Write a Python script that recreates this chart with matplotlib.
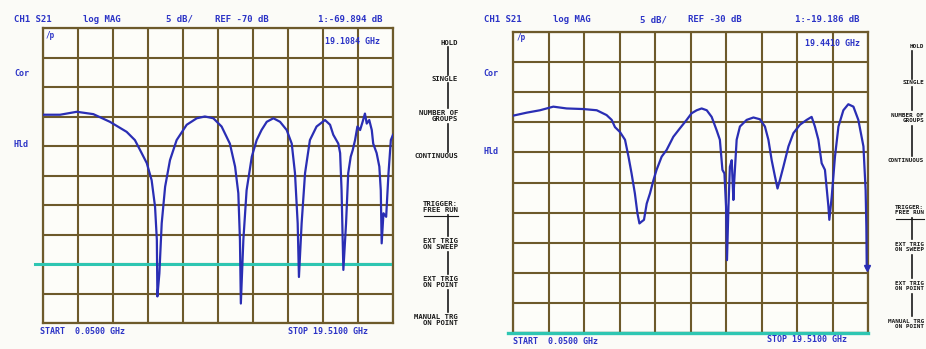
import numpy as np
import matplotlib
matplotlib.use("Agg")
import matplotlib.pyplot as plt

W, H = 926, 349

# Sweep settings (both channels)
start_ghz = 0.05
stop_ghz = 19.51
db_per_div = 5

# Left display: REF -70 dB, reference line 8 divisions down
left_ref_db = -70
left_ref_pos = 8
left_marker_ghz = 19.1084
left_marker_db = -69.894

# Right display: REF -30 dB, reference line at the bottom graticule
right_ref_db = -30
right_ref_pos = 10
right_marker_ghz = 19.4410
right_marker_db = -19.186

left_freq = [0.05, 1.00, 1.93, 2.85, 3.77, 4.70, 5.16, 5.45, 5.82, 6.09, 6.28, 6.38,
             6.41, 6.52, 6.65, 6.84, 7.11, 7.48, 8.04, 8.60, 9.05, 9.52, 9.98, 10.44,
             10.73, 10.91, 11.00, 11.05, 11.19, 11.37, 11.66, 11.93, 12.20, 12.49,
             12.86, 13.23, 13.60, 13.88, 14.06, 14.21, 14.28, 14.43, 14.62, 14.89,
             15.26, 15.73, 16.01, 16.19, 16.47, 16.57, 16.65, 16.75, 16.90, 17.02,
             17.16, 17.27, 17.40, 17.53, 17.68, 17.82, 17.95, 18.05, 18.19, 18.33,
             18.41, 18.60, 18.75, 18.83, 18.88, 18.98, 19.13, 19.26, 19.39, 19.51]
left_db = [-44.7, -44.7, -44.2, -44.6, -45.9, -47.6, -49.0, -50.7, -52.9, -55.8, -60.3, -65.9,
           -75.5, -71.6, -63.1, -56.9, -52.4, -49.0, -46.4, -45.3, -45.0, -45.3, -46.7, -49.6,
           -53.5, -58.0, -65.9, -76.7, -65.9, -57.5, -51.8, -49.0, -47.3, -45.9,
           -45.3, -45.9, -47.3, -49.6, -54.6, -63.1, -72.2, -63.1, -54.6, -49.0,
           -46.7, -45.6, -46.4, -48.1, -49.6, -51.2, -57.5, -71.0, -63.1, -54.6,
           -51.8, -50.7, -49.0, -46.7, -47.3, -45.9, -44.5, -46.2, -45.6, -47.3,
           -49.6, -51.2, -53.5, -57.5, -66.5, -61.4, -62.0, -54.6, -49.0, -48.1]

right_freq = [0.05, 0.80, 1.53, 2.26, 2.99, 3.91, 4.64, 5.18, 5.46, 5.64, 5.91, 6.19,
              6.38, 6.55, 6.73, 6.87, 6.98, 7.10, 7.23, 7.38, 7.56, 7.75, 7.92, 8.20,
              8.47, 8.84, 9.20, 9.57, 9.84, 10.12, 10.39, 10.67, 10.94, 11.21, 11.39,
              11.53, 11.64, 11.73, 11.78, 11.86, 11.94, 12.04, 12.13, 12.18, 12.31,
              12.49, 12.86, 13.23, 13.59, 13.86, 14.05, 14.23, 14.41, 14.55, 14.68,
              14.87, 15.15, 15.42, 15.78, 16.15, 16.42, 16.60, 16.79, 16.97, 17.15,
              17.34, 17.39, 17.52, 17.70, 17.89, 18.16, 18.43, 18.71, 18.98, 19.26,
              19.38, 19.42, 19.441]
right_db = [6.1, 6.6, 7.0, 7.6, 7.3, 7.2, 7.0, 6.2, 5.4, 4.2, 3.4, 2.1,
            -0.7, -3.5, -6.8, -10.1, -11.8, -11.5, -11.2, -8.5, -6.8, -4.6, -2.9, -0.7,
            0.4, 2.6, 4.0, 5.4, 6.5, 7.0, 7.3, 7.0, 5.9, 3.7, 2.1,
            -2.9, -3.5, -9.0, -17.9, -9.0, -2.4, -1.3, -7.9, -4.6, 2.1,
            4.3, 5.4, 5.8, 5.5, 4.3, 2.1, -1.3, -4.0, -6.0, -4.6,
            -2.4, 1.0, 3.2, 4.6, 5.4, 5.9, 4.3, 2.1, -1.8, -2.9,
            -9.0, -11.2, -7.4, -0.7, 4.3, 7.0, 8.0, 7.6, 5.4, 1.0,
            -6.3, -12.3, -19.186]

softkeys = ["HOLD", "SINGLE", "NUMBER OF\nGROUPS", "CONTINUOUS",
            "TRIGGER:\nFREE RUN", "EXT TRIG\nON SWEEP", "EXT TRIG\nON POINT",
            "MANUAL TRG\nON POINT"]

GRID = "#6d5a2b"
TRACE = "#2a2eb4"
ANNOT = "#2b33c6"
REFLINE = "#2ec6b2"
PAPER = "#fbfbf7"

fig = plt.figure(figsize=(W / 100, H / 100), dpi=100)
fig.patch.set_facecolor(PAPER)


def px_axes(x0, y0, x1, y1):
    return fig.add_axes([x0 / W, 1 - y1 / H, (x1 - x0) / W, (y1 - y0) / H])


def ftext(x, y, s, **kw):
    kw.setdefault("color", ANNOT)
    kw.setdefault("fontsize", 6.5)
    kw.setdefault("fontweight", "bold")
    kw.setdefault("family", "DejaVu Sans Mono")
    kw.setdefault("va", "center")
    fig.text(x / W, 1 - y / H, s, **kw)


def graticule(ax, ref_db, ref_pos):
    top = ref_db + ref_pos * db_per_div
    bottom = top - 10 * db_per_div
    ax.set_xlim(start_ghz, stop_ghz)
    ax.set_ylim(bottom, top)
    ax.set_xticks(np.linspace(start_ghz, stop_ghz, 11))
    ax.set_yticks(np.linspace(bottom, top, 11))
    ax.grid(True, color=GRID, linewidth=1.5)
    ax.tick_params(length=0, labelbottom=False, labelleft=False)
    ax.set_facecolor("#fdfdf9")
    for s in ax.spines.values():
        s.set_color(GRID)
        s.set_linewidth(1.6)
    ax.set_axisbelow(True)


def vbar(x, ya, yb):
    fig.add_artist(plt.Line2D([x / W, x / W], [1 - ya / H, 1 - yb / H],
                              color="#1a1a1a", linewidth=1.2))


def soft_keys(x_right, ys, line_x, size=5.2):
    half = []
    for label, y in zip(softkeys, ys):
        ftext(x_right, y, label, color="#1a1a1a", fontsize=size,
              ha="right", linespacing=0.85)
        half.append(8 if "\n" in label else 4)
    # short connecting bars between neighbouring keys of each group
    for grp in [(0, 1, 2, 3), (4, 5, 6, 7)]:
        for a, b in zip(grp[:-1], grp[1:]):
            vbar(line_x, ys[a] + half[a], ys[b] - half[b])
    # underline under the trigger heading
    y_u = ys[4] + half[4] + 1
    fig.add_artist(plt.Line2D([(x_right - 34 * size / 5.2) / W, x_right / W],
                              [1 - y_u / H, 1 - y_u / H], color="#1a1a1a",
                              linewidth=0.8))


# ---- left display ----
axL = px_axes(43, 28, 393, 323)
graticule(axL, left_ref_db, left_ref_pos)
axL.axhline(left_ref_db, xmin=-0.023, xmax=0.99, color=REFLINE, linewidth=2.2,
            clip_on=False, zorder=3)
axL.plot(left_freq, left_db, color=TRACE, linewidth=1.6, zorder=4)

ftext(14, 19, "CH1 S21", ha="left")
ftext(83, 19, "log MAG", ha="left")
ftext(166, 19, "5 dB/", ha="left")
ftext(215, 19, "REF -70 dB", ha="left")
ftext(318, 19, "1:-69.894 dB", ha="left")
ftext(325, 41, "19.1084 GHz", ha="left", fontsize=6)
ftext(46, 36, "/p", ha="left", fontsize=5.5)
ftext(14, 73, "Cor", ha="left", fontsize=6)
ftext(14, 144, "Hld", ha="left", fontsize=6)
ftext(40, 331, "START  0.0500 GHz", ha="left", fontsize=6)
ftext(288, 331, "STOP 19.5100 GHz", ha="left", fontsize=6)
soft_keys(458, [43, 79, 116, 156, 207, 244, 282, 320], 448)

# ---- right display ----
axR = px_axes(513, 32, 868, 333)
graticule(axR, right_ref_db, right_ref_pos)
axR.axhline(right_ref_db, xmin=-0.015, xmax=1.0, color=REFLINE, linewidth=2.4,
            clip_on=False, zorder=3)
axR.plot(right_freq, right_db, color=TRACE, linewidth=1.6, zorder=4)
axR.plot([right_marker_ghz], [right_marker_db], marker="v", color=TRACE,
         markersize=5, zorder=5, clip_on=False)

ftext(484, 20, "CH1 S21", ha="left")
ftext(553, 20, "log MAG", ha="left")
ftext(640, 20, "5 dB/", ha="left")
ftext(688, 20, "REF -30 dB", ha="left")
ftext(795, 20, "1:-19.186 dB", ha="left")
ftext(805, 43, "19.4410 GHz", ha="left", fontsize=6)
ftext(517, 38, "/p", ha="left", fontsize=5.5)
ftext(483, 73, "Cor", ha="left", fontsize=6)
ftext(483, 152, "Hld", ha="left", fontsize=6)
ftext(513, 341, "START  0.0500 GHz", ha="left", fontsize=6)
ftext(767, 340, "STOP 19.5100 GHz", ha="left", fontsize=6)
soft_keys(924, [47, 83, 118, 160, 210, 247, 286, 324], 912, size=4.3)

fig.savefig("out.png", dpi=100, facecolor=fig.get_facecolor())
